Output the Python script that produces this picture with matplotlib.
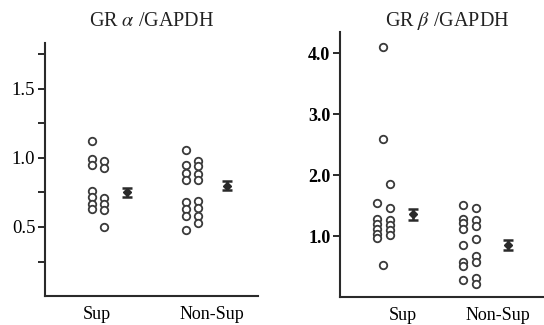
import matplotlib
matplotlib.use("Agg")
import matplotlib.pyplot as plt

plt.rcParams['font.family'] = ['Liberation Serif', 'DejaVu Serif']
plt.rcParams['mathtext.fontset'] = 'stix'

groups = ["Sup", "Non-Sup"]

# GR alpha / GAPDH, dots split in two columns per group
alpha_sup_a = [1.12, 0.99, 0.95, 0.76, 0.72, 0.67, 0.63]
alpha_sup_b = [0.98, 0.93, 0.71, 0.67, 0.62, 0.50]
alpha_non_a = [1.06, 0.95, 0.89, 0.84, 0.68, 0.63, 0.58, 0.48]
alpha_non_b = [0.98, 0.94, 0.88, 0.84, 0.69, 0.64, 0.58, 0.53]
alpha_mean = [0.75, 0.80]
alpha_err = [0.035, 0.035]

# GR beta / GAPDH
beta_sup_a = [1.54, 1.28, 1.20, 1.12, 1.04, 0.97]
beta_sup_b = [1.85, 1.46, 1.26, 1.18, 1.10, 1.02]
beta_sup_mid = [4.10, 2.60, 0.52]
beta_non_a = [1.51, 1.29, 1.21, 1.11, 0.85, 0.57, 0.51, 0.28]
beta_non_b = [1.46, 1.26, 1.17, 0.96, 0.67, 0.58, 0.31, 0.22]
beta_mean = [1.36, 0.86]
beta_err = [0.09, 0.08]

fig = plt.figure(figsize=(5.44, 3.25), dpi=100)
ax1 = fig.add_axes([0.0827, 0.089, 0.3915, 0.778])
ax2 = fig.add_axes([0.625, 0.086, 0.374, 0.815])

dot = dict(marker='o', ms=5.4, mfc='white', mec='#3a3a3a', mew=1.3, ls='none')
col = '#2a2a2a'


def draw(ax, cols, mid, means, errs, dx, mdx):
    for g in range(2):
        a, b = cols[g]
        ax.plot([g - dx] * len(a), a, **dot)
        ax.plot([g + dx] * len(b), b, **dot)
        if mid[g]:
            ax.plot([g] * len(mid[g]), mid[g], **dot)
        ax.errorbar(g + mdx[g], means[g], yerr=errs[g], fmt='D', ms=4,
                    color=col, ecolor=col, elinewidth=1.8, capsize=3.5,
                    capthick=1.8)
    for s in ['top', 'right']:
        ax.spines[s].set_visible(False)
    for s in ['left', 'bottom']:
        ax.spines[s].set_linewidth(1.5)
        ax.spines[s].set_color(col)
    ax.tick_params(axis='x', length=0, labelsize=13, pad=7)
    ax.tick_params(axis='y', which='both', direction='out', length=5,
                   width=1.4, color=col, pad=2)


draw(ax1, [(alpha_sup_a, alpha_sup_b), (alpha_non_a, alpha_non_b)],
     [[], []], alpha_mean, alpha_err, 0.066, [0.31, 0.37])
ax1.set_xlim(-0.564, 1.70)
ax1.set_ylim(0, 1.83)
ax1.set_yticks([0.5, 1.0, 1.5])
ax1.set_yticks([0.25, 0.75, 1.25, 1.75], minor=True)
ax1.set_yticklabels(['0.5', '1.0', '1.5'], fontsize=13.5)
ax1.set_xticks([-0.01, 1.21])
ax1.set_xticklabels(groups)

draw(ax2, [(beta_sup_a, beta_sup_b), (beta_non_a, beta_non_b)],
     [beta_sup_mid, []], beta_mean, beta_err, 0.075, [0.34, 0.45])
ax2.set_xlim(-0.503, 1.856)
ax2.set_ylim(0, 4.35)
ax2.set_yticks([1, 2, 3, 4])
ax2.set_yticklabels(['1.0', '2.0', '3.0', '4.0'], fontsize=13,
                    fontweight='bold')
ax2.set_xticks([0.23, 1.33])
ax2.set_xticklabels(groups)

fig.text(0.278, 0.935, r'GR $\alpha$ /GAPDH', ha='center', va='center',
         fontsize=14.5, color='#222222')
fig.text(0.823, 0.935, r'GR $\beta$ /GAPDH', ha='center', va='center',
         fontsize=14.5, color='#222222')

fig.savefig('out.png', dpi=100)
